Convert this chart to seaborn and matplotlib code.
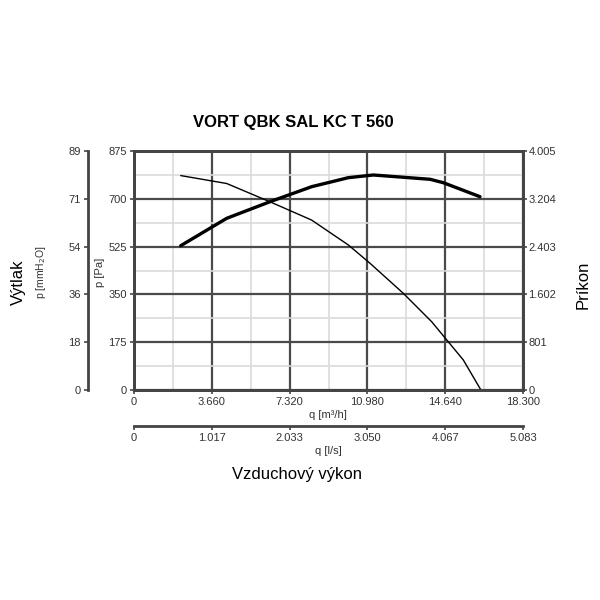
import matplotlib
matplotlib.use("Agg")
import matplotlib.pyplot as plt
import seaborn as sns
import pandas as pd

# ---- data ----
title = "VORT QBK SAL KC T 560"
q_pressure = [2197, 4361, 6398, 8359, 10083, 11102, 12669, 14003, 15492, 16320]
p_pressure = [785, 756, 689, 622, 531, 464, 354, 250, 110, 0]
q_power = [2197, 4361, 6398, 8359, 10083, 11260, 13925, 14550, 16277]
p_power = [2418, 2877, 3155, 3407, 3558, 3603, 3531, 3474, 3239]

x_ticks = [0, 3660, 7320, 10980, 14640, 18300]
x_labels = ["0", "3.660", "7.320", "10.980", "14.640", "18.300"]
ls_labels = ["0", "1.017", "2.033", "3.050", "4.067", "5.083"]
pa_ticks = [0, 175, 350, 525, 700, 875]
pa_labels = ["0", "175", "350", "525", "700", "875"]
mm_labels = ["0", "18", "36", "54", "71", "89"]
w_ticks = [0, 801, 1602, 2403, 3204, 4005]
w_labels = ["0", "801", "1.602", "2.403", "3.204", "4.005"]

sns.set_style("white")
plt.rcParams["font.family"] = ["Liberation Sans", "DejaVu Sans"]

DARK = "#444444"
TXT = "#333333"
fig = plt.figure(figsize=(6, 6), dpi=100)
ax = fig.add_axes([134/600, 1-390/600, (523-134)/600, (390-151)/600])

minor_x = [(x_ticks[i] + x_ticks[i+1]) / 2 for i in range(len(x_ticks)-1)]
minor_y = [(pa_ticks[i] + pa_ticks[i+1]) / 2 for i in range(len(pa_ticks)-1)]
ax.set_xlim(0, 18300)
ax.set_ylim(0, 875)
ax.set_xticks(x_ticks)
ax.set_xticklabels(x_labels)
ax.set_yticks(pa_ticks)
ax.set_yticklabels(pa_labels)
ax.set_xticks(minor_x, minor=True)
ax.set_yticks(minor_y, minor=True)
ax.grid(True, which="minor", color="#dadada", lw=1.2, zorder=0)
ax.grid(True, which="major", color="#4a4a4a", lw=1.6, zorder=1)
ax.tick_params(which="minor", length=0)
ax.tick_params(axis="both", which="major", labelsize=8, labelcolor=TXT, color=DARK,
               length=3, width=1.2, pad=2)
for s in ax.spines.values():
    s.set_color(DARK)
    s.set_linewidth(2)

df_p = pd.DataFrame({"q": q_pressure, "p": p_pressure})
sns.lineplot(data=df_p, x="q", y="p", ax=ax, color="black", lw=1.0, sort=False, zorder=5)
ax.set_xlabel("")
ax.set_ylabel("")

# power axis (right)
axw = ax.twinx()
axw.set_ylim(0, 4005)
df_w = pd.DataFrame({"q": q_power, "P": p_power})
sns.lineplot(data=df_w, x="q", y="P", ax=axw, color="black", lw=2.4, sort=False, zorder=5)
axw.set_yticks(w_ticks)
axw.set_yticklabels(w_labels)
axw.set_ylabel("")
axw.tick_params(axis="y", labelsize=8, labelcolor=TXT, color=DARK, length=3, width=1.2, pad=1)
for s in axw.spines.values():
    s.set_color(DARK)
    s.set_linewidth(2)

# mmH2O axis (outer left)
axm = ax.twinx()
axm.set_ylim(0, 875)
axm.yaxis.set_ticks_position("left")
axm.yaxis.set_label_position("left")
axm.spines["left"].set_position(("outward", 46 * 0.72))
for k in ["right", "top", "bottom"]:
    axm.spines[k].set_visible(False)
axm.spines["left"].set_color(DARK)
axm.spines["left"].set_linewidth(2)
axm.set_yticks(pa_ticks)
axm.set_yticklabels(mm_labels)
axm.tick_params(axis="y", labelsize=8, labelcolor=TXT, color=DARK, length=3, width=1.2, pad=2)

# l/s axis (second bottom)
axl = ax.twiny()
axl.set_xlim(0, 18300)
axl.xaxis.set_ticks_position("bottom")
axl.xaxis.set_label_position("bottom")
axl.spines["bottom"].set_position(("outward", 36 * 0.72))
for k in ["right", "top", "left"]:
    axl.spines[k].set_visible(False)
axl.spines["bottom"].set_color(DARK)
axl.spines["bottom"].set_linewidth(2)
axl.set_xticks(x_ticks)
axl.set_xticklabels(ls_labels)
axl.tick_params(axis="x", labelsize=8, labelcolor=TXT, color=DARK, length=3, width=1.2, pad=2)

# texts
fig.text(293/600, 1-122/600, title, ha="center", va="center", fontsize=12,
         fontweight="bold", color="black")
fig.text(328/600, 1-415/600, "q [m³/h]", ha="center", va="center", fontsize=8, color=TXT)
fig.text(328/600, 1-451/600, "q [l/s]", ha="center", va="center", fontsize=8, color=TXT)
fig.text(297/600, 1-474/600, "Vzduchový výkon", ha="center", va="center", fontsize=12, color="black")
fig.text(18/600, 1-282/600, "Výtlak", ha="center", va="center", rotation=90, fontsize=12, color="black")
fig.text(41/600, 1-272/600, "p [mmH$_2$O]", ha="center", va="center", rotation=90, fontsize=7.5, color=TXT)
fig.text(100/600, 1-272/600, "p [Pa]", ha="center", va="center", rotation=90, fontsize=8, color=TXT)
fig.text(583/600, 1-285/600, "Príkon", ha="center", va="center", rotation=90, fontsize=12, color="black")

fig.savefig("out.png", dpi=100, facecolor="white")
